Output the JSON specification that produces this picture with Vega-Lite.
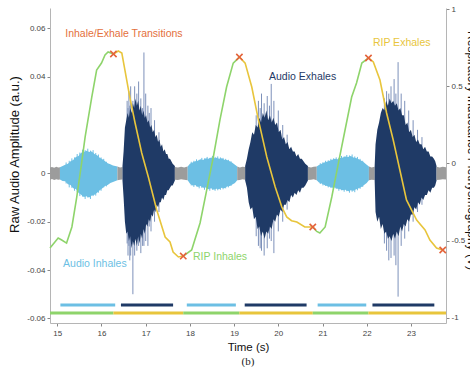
{
  "$schema": "https://vega.github.io/schema/vega-lite/v6.json",
  "width": 396,
  "height": 315,
  "autosize": {"type": "none"},
  "padding": {"left": 50, "top": 8, "right": 24, "bottom": 44},
  "title": {"text": "(b)", "orient": "bottom", "font": "Liberation Serif", "fontSize": 11, "fontWeight": "normal", "color": "#222", "offset": 3},
  "config": {
    "view": {"stroke": null},
    "font": "Liberation Sans",
    "axis": {"domainColor": "#b5b5b5", "tickColor": "#888", "labelColor": "#444", "labelFontSize": 8, "titleColor": "#111", "titleFontWeight": "normal", "grid": false, "tickSize": 3, "labelFont": "Liberation Sans", "titleFont": "Liberation Sans"}
  },
  "datasets": {
    "audio": [
      {"t": 14.835, "hi": 0.0024, "lo": -0.0026, "k": "pause", "s": "p1"},
      {"t": 14.88, "hi": 0.0026, "lo": -0.0023, "k": "pause", "s": "p1"},
      {"t": 14.93, "hi": 0.0023, "lo": -0.0027, "k": "pause", "s": "p1"},
      {"t": 14.98, "hi": 0.0027, "lo": -0.0024, "k": "pause", "s": "p1"},
      {"t": 15.02, "hi": 0.0024, "lo": -0.0026, "k": "pause", "s": "p1"},
      {"t": 15.06, "hi": 0.0025, "lo": -0.0025, "k": "pause", "s": "p1"},
      {"t": 15.06, "hi": 0.0025, "lo": -0.0025, "k": "inhale", "s": "i1"},
      {"t": 15.12, "hi": 0.0030, "lo": -0.0032, "k": "inhale", "s": "i1"},
      {"t": 15.18, "hi": 0.0036, "lo": -0.0033, "k": "inhale", "s": "i1"},
      {"t": 15.24, "hi": 0.0040, "lo": -0.0045, "k": "inhale", "s": "i1"},
      {"t": 15.30, "hi": 0.0050, "lo": -0.0048, "k": "inhale", "s": "i1"},
      {"t": 15.36, "hi": 0.0055, "lo": -0.0062, "k": "inhale", "s": "i1"},
      {"t": 15.42, "hi": 0.0068, "lo": -0.0065, "k": "inhale", "s": "i1"},
      {"t": 15.48, "hi": 0.0072, "lo": -0.0080, "k": "inhale", "s": "i1"},
      {"t": 15.54, "hi": 0.0085, "lo": -0.0088, "k": "inhale", "s": "i1"},
      {"t": 15.60, "hi": 0.0088, "lo": -0.0098, "k": "inhale", "s": "i1"},
      {"t": 15.66, "hi": 0.0093, "lo": -0.0095, "k": "inhale", "s": "i1"},
      {"t": 15.72, "hi": 0.0088, "lo": -0.0100, "k": "inhale", "s": "i1"},
      {"t": 15.78, "hi": 0.0090, "lo": -0.0092, "k": "inhale", "s": "i1"},
      {"t": 15.84, "hi": 0.0080, "lo": -0.0088, "k": "inhale", "s": "i1"},
      {"t": 15.90, "hi": 0.0075, "lo": -0.0080, "k": "inhale", "s": "i1"},
      {"t": 15.96, "hi": 0.0065, "lo": -0.0070, "k": "inhale", "s": "i1"},
      {"t": 16.02, "hi": 0.0058, "lo": -0.0062, "k": "inhale", "s": "i1"},
      {"t": 16.08, "hi": 0.0050, "lo": -0.0052, "k": "inhale", "s": "i1"},
      {"t": 16.14, "hi": 0.0042, "lo": -0.0048, "k": "inhale", "s": "i1"},
      {"t": 16.20, "hi": 0.0038, "lo": -0.0040, "k": "inhale", "s": "i1"},
      {"t": 16.26, "hi": 0.0032, "lo": -0.0036, "k": "inhale", "s": "i1"},
      {"t": 16.36, "hi": 0.0028, "lo": -0.0028, "k": "inhale", "s": "i1"},
      {"t": 16.36, "hi": 0.0028, "lo": -0.0028, "k": "pause", "s": "p2"},
      {"t": 16.42, "hi": 0.0024, "lo": -0.0026, "k": "pause", "s": "p2"},
      {"t": 16.475, "hi": 0.0026, "lo": -0.0025, "k": "pause", "s": "p2"},
      {"t": 16.475, "hi": 0.003, "lo": -0.003, "k": "exhale", "s": "e1"},
      {"t": 16.50, "hi": 0.009, "lo": -0.010, "k": "exhale", "s": "e1"},
      {"t": 16.53, "hi": 0.019, "lo": -0.020, "k": "exhale", "s": "e1"},
      {"t": 16.56, "hi": 0.022, "lo": -0.025, "k": "exhale", "s": "e1"},
      {"t": 16.59, "hi": 0.025, "lo": -0.024, "k": "exhale", "s": "e1"},
      {"t": 16.62, "hi": 0.023, "lo": -0.028, "k": "exhale", "s": "e1"},
      {"t": 16.65, "hi": 0.027, "lo": -0.026, "k": "exhale", "s": "e1"},
      {"t": 16.68, "hi": 0.025, "lo": -0.031, "k": "exhale", "s": "e1"},
      {"t": 16.71, "hi": 0.029, "lo": -0.028, "k": "exhale", "s": "e1"},
      {"t": 16.74, "hi": 0.027, "lo": -0.030, "k": "exhale", "s": "e1"},
      {"t": 16.77, "hi": 0.031, "lo": -0.027, "k": "exhale", "s": "e1"},
      {"t": 16.80, "hi": 0.028, "lo": -0.030, "k": "exhale", "s": "e1"},
      {"t": 16.83, "hi": 0.030, "lo": -0.026, "k": "exhale", "s": "e1"},
      {"t": 16.86, "hi": 0.026, "lo": -0.029, "k": "exhale", "s": "e1"},
      {"t": 16.89, "hi": 0.028, "lo": -0.025, "k": "exhale", "s": "e1"},
      {"t": 16.92, "hi": 0.024, "lo": -0.027, "k": "exhale", "s": "e1"},
      {"t": 16.95, "hi": 0.026, "lo": -0.023, "k": "exhale", "s": "e1"},
      {"t": 16.98, "hi": 0.023, "lo": -0.025, "k": "exhale", "s": "e1"},
      {"t": 17.01, "hi": 0.024, "lo": -0.021, "k": "exhale", "s": "e1"},
      {"t": 17.04, "hi": 0.021, "lo": -0.022, "k": "exhale", "s": "e1"},
      {"t": 17.07, "hi": 0.022, "lo": -0.019, "k": "exhale", "s": "e1"},
      {"t": 17.10, "hi": 0.019, "lo": -0.020, "k": "exhale", "s": "e1"},
      {"t": 17.13, "hi": 0.020, "lo": -0.017, "k": "exhale", "s": "e1"},
      {"t": 17.16, "hi": 0.017, "lo": -0.018, "k": "exhale", "s": "e1"},
      {"t": 17.19, "hi": 0.018, "lo": -0.015, "k": "exhale", "s": "e1"},
      {"t": 17.22, "hi": 0.015, "lo": -0.016, "k": "exhale", "s": "e1"},
      {"t": 17.25, "hi": 0.016, "lo": -0.013, "k": "exhale", "s": "e1"},
      {"t": 17.28, "hi": 0.013, "lo": -0.014, "k": "exhale", "s": "e1"},
      {"t": 17.31, "hi": 0.014, "lo": -0.012, "k": "exhale", "s": "e1"},
      {"t": 17.34, "hi": 0.011, "lo": -0.012, "k": "exhale", "s": "e1"},
      {"t": 17.37, "hi": 0.012, "lo": -0.010, "k": "exhale", "s": "e1"},
      {"t": 17.40, "hi": 0.009, "lo": -0.011, "k": "exhale", "s": "e1"},
      {"t": 17.43, "hi": 0.010, "lo": -0.009, "k": "exhale", "s": "e1"},
      {"t": 17.46, "hi": 0.008, "lo": -0.009, "k": "exhale", "s": "e1"},
      {"t": 17.49, "hi": 0.008, "lo": -0.007, "k": "exhale", "s": "e1"},
      {"t": 17.52, "hi": 0.006, "lo": -0.007, "k": "exhale", "s": "e1"},
      {"t": 17.55, "hi": 0.006, "lo": -0.006, "k": "exhale", "s": "e1"},
      {"t": 17.58, "hi": 0.005, "lo": -0.005, "k": "exhale", "s": "e1"},
      {"t": 17.61, "hi": 0.004, "lo": -0.005, "k": "exhale", "s": "e1"},
      {"t": 17.66, "hi": 0.003, "lo": -0.003, "k": "exhale", "s": "e1"},
      {"t": 17.66, "hi": 0.0026, "lo": -0.0026, "k": "pause", "s": "p3"},
      {"t": 17.73, "hi": 0.0024, "lo": -0.0027, "k": "pause", "s": "p3"},
      {"t": 17.80, "hi": 0.0027, "lo": -0.0024, "k": "pause", "s": "p3"},
      {"t": 17.87, "hi": 0.0024, "lo": -0.0026, "k": "pause", "s": "p3"},
      {"t": 17.95, "hi": 0.0028, "lo": -0.0028, "k": "pause", "s": "p3"},
      {"t": 17.95, "hi": 0.0028, "lo": -0.0028, "k": "inhale", "s": "i2"},
      {"t": 18.00, "hi": 0.0040, "lo": -0.0042, "k": "inhale", "s": "i2"},
      {"t": 18.06, "hi": 0.0045, "lo": -0.0050, "k": "inhale", "s": "i2"},
      {"t": 18.12, "hi": 0.0050, "lo": -0.0048, "k": "inhale", "s": "i2"},
      {"t": 18.18, "hi": 0.0052, "lo": -0.0056, "k": "inhale", "s": "i2"},
      {"t": 18.24, "hi": 0.0058, "lo": -0.0052, "k": "inhale", "s": "i2"},
      {"t": 18.30, "hi": 0.0055, "lo": -0.0060, "k": "inhale", "s": "i2"},
      {"t": 18.36, "hi": 0.0062, "lo": -0.0058, "k": "inhale", "s": "i2"},
      {"t": 18.42, "hi": 0.0060, "lo": -0.0066, "k": "inhale", "s": "i2"},
      {"t": 18.48, "hi": 0.0066, "lo": -0.0062, "k": "inhale", "s": "i2"},
      {"t": 18.54, "hi": 0.0062, "lo": -0.0068, "k": "inhale", "s": "i2"},
      {"t": 18.60, "hi": 0.0065, "lo": -0.0064, "k": "inhale", "s": "i2"},
      {"t": 18.66, "hi": 0.0060, "lo": -0.0066, "k": "inhale", "s": "i2"},
      {"t": 18.72, "hi": 0.0062, "lo": -0.0060, "k": "inhale", "s": "i2"},
      {"t": 18.78, "hi": 0.0056, "lo": -0.0062, "k": "inhale", "s": "i2"},
      {"t": 18.84, "hi": 0.0055, "lo": -0.0054, "k": "inhale", "s": "i2"},
      {"t": 18.90, "hi": 0.0050, "lo": -0.0052, "k": "inhale", "s": "i2"},
      {"t": 18.96, "hi": 0.0044, "lo": -0.0046, "k": "inhale", "s": "i2"},
      {"t": 19.02, "hi": 0.0036, "lo": -0.0040, "k": "inhale", "s": "i2"},
      {"t": 19.07, "hi": 0.0028, "lo": -0.0028, "k": "inhale", "s": "i2"},
      {"t": 19.07, "hi": 0.0028, "lo": -0.0028, "k": "pause", "s": "p4"},
      {"t": 19.13, "hi": 0.0024, "lo": -0.0027, "k": "pause", "s": "p4"},
      {"t": 19.19, "hi": 0.0027, "lo": -0.0024, "k": "pause", "s": "p4"},
      {"t": 19.25, "hi": 0.0026, "lo": -0.0026, "k": "pause", "s": "p4"},
      {"t": 19.25, "hi": 0.003, "lo": -0.003, "k": "exhale", "s": "e2"},
      {"t": 19.29, "hi": 0.006, "lo": -0.006, "k": "exhale", "s": "e2"},
      {"t": 19.33, "hi": 0.010, "lo": -0.012, "k": "exhale", "s": "e2"},
      {"t": 19.37, "hi": 0.013, "lo": -0.015, "k": "exhale", "s": "e2"},
      {"t": 19.41, "hi": 0.017, "lo": -0.014, "k": "exhale", "s": "e2"},
      {"t": 19.45, "hi": 0.016, "lo": -0.019, "k": "exhale", "s": "e2"},
      {"t": 19.49, "hi": 0.020, "lo": -0.018, "k": "exhale", "s": "e2"},
      {"t": 19.53, "hi": 0.019, "lo": -0.023, "k": "exhale", "s": "e2"},
      {"t": 19.57, "hi": 0.023, "lo": -0.022, "k": "exhale", "s": "e2"},
      {"t": 19.61, "hi": 0.021, "lo": -0.026, "k": "exhale", "s": "e2"},
      {"t": 19.65, "hi": 0.025, "lo": -0.024, "k": "exhale", "s": "e2"},
      {"t": 19.69, "hi": 0.023, "lo": -0.027, "k": "exhale", "s": "e2"},
      {"t": 19.73, "hi": 0.026, "lo": -0.024, "k": "exhale", "s": "e2"},
      {"t": 19.77, "hi": 0.022, "lo": -0.025, "k": "exhale", "s": "e2"},
      {"t": 19.81, "hi": 0.024, "lo": -0.022, "k": "exhale", "s": "e2"},
      {"t": 19.85, "hi": 0.021, "lo": -0.023, "k": "exhale", "s": "e2"},
      {"t": 19.89, "hi": 0.023, "lo": -0.019, "k": "exhale", "s": "e2"},
      {"t": 19.93, "hi": 0.020, "lo": -0.020, "k": "exhale", "s": "e2"},
      {"t": 19.97, "hi": 0.021, "lo": -0.017, "k": "exhale", "s": "e2"},
      {"t": 20.01, "hi": 0.017, "lo": -0.018, "k": "exhale", "s": "e2"},
      {"t": 20.05, "hi": 0.018, "lo": -0.015, "k": "exhale", "s": "e2"},
      {"t": 20.09, "hi": 0.014, "lo": -0.016, "k": "exhale", "s": "e2"},
      {"t": 20.13, "hi": 0.015, "lo": -0.013, "k": "exhale", "s": "e2"},
      {"t": 20.17, "hi": 0.012, "lo": -0.013, "k": "exhale", "s": "e2"},
      {"t": 20.21, "hi": 0.013, "lo": -0.011, "k": "exhale", "s": "e2"},
      {"t": 20.25, "hi": 0.010, "lo": -0.012, "k": "exhale", "s": "e2"},
      {"t": 20.29, "hi": 0.011, "lo": -0.009, "k": "exhale", "s": "e2"},
      {"t": 20.33, "hi": 0.009, "lo": -0.010, "k": "exhale", "s": "e2"},
      {"t": 20.37, "hi": 0.009, "lo": -0.008, "k": "exhale", "s": "e2"},
      {"t": 20.41, "hi": 0.007, "lo": -0.009, "k": "exhale", "s": "e2"},
      {"t": 20.45, "hi": 0.008, "lo": -0.007, "k": "exhale", "s": "e2"},
      {"t": 20.49, "hi": 0.006, "lo": -0.008, "k": "exhale", "s": "e2"},
      {"t": 20.53, "hi": 0.006, "lo": -0.006, "k": "exhale", "s": "e2"},
      {"t": 20.57, "hi": 0.005, "lo": -0.006, "k": "exhale", "s": "e2"},
      {"t": 20.61, "hi": 0.004, "lo": -0.005, "k": "exhale", "s": "e2"},
      {"t": 20.67, "hi": 0.003, "lo": -0.003, "k": "exhale", "s": "e2"},
      {"t": 20.67, "hi": 0.0027, "lo": -0.0027, "k": "pause", "s": "p5"},
      {"t": 20.74, "hi": 0.0024, "lo": -0.0026, "k": "pause", "s": "p5"},
      {"t": 20.80, "hi": 0.0027, "lo": -0.0024, "k": "pause", "s": "p5"},
      {"t": 20.87, "hi": 0.0028, "lo": -0.0028, "k": "pause", "s": "p5"},
      {"t": 20.87, "hi": 0.0028, "lo": -0.0028, "k": "inhale", "s": "i3"},
      {"t": 20.92, "hi": 0.0035, "lo": -0.0038, "k": "inhale", "s": "i3"},
      {"t": 20.98, "hi": 0.0040, "lo": -0.0042, "k": "inhale", "s": "i3"},
      {"t": 21.04, "hi": 0.0045, "lo": -0.0048, "k": "inhale", "s": "i3"},
      {"t": 21.10, "hi": 0.0048, "lo": -0.0052, "k": "inhale", "s": "i3"},
      {"t": 21.16, "hi": 0.0052, "lo": -0.0055, "k": "inhale", "s": "i3"},
      {"t": 21.22, "hi": 0.0056, "lo": -0.0060, "k": "inhale", "s": "i3"},
      {"t": 21.28, "hi": 0.0060, "lo": -0.0058, "k": "inhale", "s": "i3"},
      {"t": 21.34, "hi": 0.0058, "lo": -0.0064, "k": "inhale", "s": "i3"},
      {"t": 21.40, "hi": 0.0064, "lo": -0.0066, "k": "inhale", "s": "i3"},
      {"t": 21.46, "hi": 0.0066, "lo": -0.0070, "k": "inhale", "s": "i3"},
      {"t": 21.52, "hi": 0.0070, "lo": -0.0068, "k": "inhale", "s": "i3"},
      {"t": 21.58, "hi": 0.0068, "lo": -0.0074, "k": "inhale", "s": "i3"},
      {"t": 21.64, "hi": 0.0072, "lo": -0.0070, "k": "inhale", "s": "i3"},
      {"t": 21.70, "hi": 0.0066, "lo": -0.0072, "k": "inhale", "s": "i3"},
      {"t": 21.76, "hi": 0.0064, "lo": -0.0066, "k": "inhale", "s": "i3"},
      {"t": 21.82, "hi": 0.0058, "lo": -0.0062, "k": "inhale", "s": "i3"},
      {"t": 21.88, "hi": 0.0052, "lo": -0.0056, "k": "inhale", "s": "i3"},
      {"t": 21.94, "hi": 0.0045, "lo": -0.0048, "k": "inhale", "s": "i3"},
      {"t": 22.00, "hi": 0.0036, "lo": -0.0040, "k": "inhale", "s": "i3"},
      {"t": 22.05, "hi": 0.0028, "lo": -0.0028, "k": "inhale", "s": "i3"},
      {"t": 22.05, "hi": 0.0028, "lo": -0.0028, "k": "pause", "s": "p6"},
      {"t": 22.11, "hi": 0.0024, "lo": -0.0026, "k": "pause", "s": "p6"},
      {"t": 22.18, "hi": 0.0027, "lo": -0.0027, "k": "pause", "s": "p6"},
      {"t": 22.18, "hi": 0.003, "lo": -0.003, "k": "exhale", "s": "e3"},
      {"t": 22.20, "hi": 0.012, "lo": -0.016, "k": "exhale", "s": "e3"},
      {"t": 22.24, "hi": 0.018, "lo": -0.020, "k": "exhale", "s": "e3"},
      {"t": 22.28, "hi": 0.021, "lo": -0.018, "k": "exhale", "s": "e3"},
      {"t": 22.32, "hi": 0.025, "lo": -0.023, "k": "exhale", "s": "e3"},
      {"t": 22.36, "hi": 0.027, "lo": -0.021, "k": "exhale", "s": "e3"},
      {"t": 22.40, "hi": 0.026, "lo": -0.025, "k": "exhale", "s": "e3"},
      {"t": 22.44, "hi": 0.030, "lo": -0.024, "k": "exhale", "s": "e3"},
      {"t": 22.48, "hi": 0.028, "lo": -0.027, "k": "exhale", "s": "e3"},
      {"t": 22.52, "hi": 0.031, "lo": -0.026, "k": "exhale", "s": "e3"},
      {"t": 22.56, "hi": 0.029, "lo": -0.028, "k": "exhale", "s": "e3"},
      {"t": 22.60, "hi": 0.030, "lo": -0.025, "k": "exhale", "s": "e3"},
      {"t": 22.64, "hi": 0.028, "lo": -0.027, "k": "exhale", "s": "e3"},
      {"t": 22.68, "hi": 0.029, "lo": -0.024, "k": "exhale", "s": "e3"},
      {"t": 22.72, "hi": 0.026, "lo": -0.026, "k": "exhale", "s": "e3"},
      {"t": 22.76, "hi": 0.027, "lo": -0.022, "k": "exhale", "s": "e3"},
      {"t": 22.80, "hi": 0.024, "lo": -0.024, "k": "exhale", "s": "e3"},
      {"t": 22.84, "hi": 0.024, "lo": -0.021, "k": "exhale", "s": "e3"},
      {"t": 22.88, "hi": 0.020, "lo": -0.022, "k": "exhale", "s": "e3"},
      {"t": 22.92, "hi": 0.021, "lo": -0.019, "k": "exhale", "s": "e3"},
      {"t": 22.96, "hi": 0.017, "lo": -0.020, "k": "exhale", "s": "e3"},
      {"t": 23.00, "hi": 0.018, "lo": -0.017, "k": "exhale", "s": "e3"},
      {"t": 23.04, "hi": 0.015, "lo": -0.017, "k": "exhale", "s": "e3"},
      {"t": 23.08, "hi": 0.016, "lo": -0.014, "k": "exhale", "s": "e3"},
      {"t": 23.12, "hi": 0.013, "lo": -0.015, "k": "exhale", "s": "e3"},
      {"t": 23.16, "hi": 0.014, "lo": -0.012, "k": "exhale", "s": "e3"},
      {"t": 23.20, "hi": 0.012, "lo": -0.013, "k": "exhale", "s": "e3"},
      {"t": 23.24, "hi": 0.012, "lo": -0.010, "k": "exhale", "s": "e3"},
      {"t": 23.28, "hi": 0.010, "lo": -0.011, "k": "exhale", "s": "e3"},
      {"t": 23.32, "hi": 0.011, "lo": -0.009, "k": "exhale", "s": "e3"},
      {"t": 23.36, "hi": 0.009, "lo": -0.009, "k": "exhale", "s": "e3"},
      {"t": 23.40, "hi": 0.009, "lo": -0.007, "k": "exhale", "s": "e3"},
      {"t": 23.44, "hi": 0.007, "lo": -0.008, "k": "exhale", "s": "e3"},
      {"t": 23.48, "hi": 0.007, "lo": -0.006, "k": "exhale", "s": "e3"},
      {"t": 23.52, "hi": 0.006, "lo": -0.006, "k": "exhale", "s": "e3"},
      {"t": 23.55, "hi": 0.005, "lo": -0.005, "k": "exhale", "s": "e3"},
      {"t": 23.58, "hi": 0.003, "lo": -0.003, "k": "exhale", "s": "e3"},
      {"t": 23.58, "hi": 0.0027, "lo": -0.0027, "k": "pause", "s": "p7"},
      {"t": 23.65, "hi": 0.0024, "lo": -0.0026, "k": "pause", "s": "p7"},
      {"t": 23.72, "hi": 0.0027, "lo": -0.0024, "k": "pause", "s": "p7"},
      {"t": 23.794, "hi": 0.0025, "lo": -0.0025, "k": "pause", "s": "p7"}
    ],
    "spikes": [
      {"t": 15.20, "hi": 0.0045, "lo": -0.0042, "k": "inhale"},
      {"t": 15.27, "hi": 0.0052, "lo": -0.0058, "k": "inhale"},
      {"t": 15.33, "hi": 0.0062, "lo": -0.0060, "k": "inhale"},
      {"t": 15.39, "hi": 0.0066, "lo": -0.0072, "k": "inhale"},
      {"t": 15.45, "hi": 0.0080, "lo": -0.0078, "k": "inhale"},
      {"t": 15.51, "hi": 0.0086, "lo": -0.0094, "k": "inhale"},
      {"t": 15.57, "hi": 0.0098, "lo": -0.0096, "k": "inhale"},
      {"t": 15.63, "hi": 0.0096, "lo": -0.0106, "k": "inhale"},
      {"t": 15.69, "hi": 0.0102, "lo": -0.0100, "k": "inhale"},
      {"t": 15.75, "hi": 0.0094, "lo": -0.0106, "k": "inhale"},
      {"t": 15.81, "hi": 0.0096, "lo": -0.0094, "k": "inhale"},
      {"t": 15.87, "hi": 0.0084, "lo": -0.0092, "k": "inhale"},
      {"t": 15.93, "hi": 0.0078, "lo": -0.0080, "k": "inhale"},
      {"t": 15.99, "hi": 0.0066, "lo": -0.0072, "k": "inhale"},
      {"t": 16.05, "hi": 0.0060, "lo": -0.0058, "k": "inhale"},
      {"t": 16.11, "hi": 0.0048, "lo": -0.0054, "k": "inhale"},
      {"t": 18.03, "hi": 0.0048, "lo": -0.0050, "k": "inhale"},
      {"t": 18.09, "hi": 0.0052, "lo": -0.0056, "k": "inhale"},
      {"t": 18.15, "hi": 0.0058, "lo": -0.0054, "k": "inhale"},
      {"t": 18.21, "hi": 0.0056, "lo": -0.0062, "k": "inhale"},
      {"t": 18.27, "hi": 0.0064, "lo": -0.0060, "k": "inhale"},
      {"t": 18.33, "hi": 0.0062, "lo": -0.0068, "k": "inhale"},
      {"t": 18.39, "hi": 0.0068, "lo": -0.0064, "k": "inhale"},
      {"t": 18.45, "hi": 0.0064, "lo": -0.0072, "k": "inhale"},
      {"t": 18.51, "hi": 0.0072, "lo": -0.0068, "k": "inhale"},
      {"t": 18.57, "hi": 0.0068, "lo": -0.0072, "k": "inhale"},
      {"t": 18.63, "hi": 0.0070, "lo": -0.0070, "k": "inhale"},
      {"t": 18.69, "hi": 0.0066, "lo": -0.0068, "k": "inhale"},
      {"t": 18.75, "hi": 0.0064, "lo": -0.0066, "k": "inhale"},
      {"t": 18.81, "hi": 0.0060, "lo": -0.0062, "k": "inhale"},
      {"t": 18.87, "hi": 0.0056, "lo": -0.0058, "k": "inhale"},
      {"t": 18.93, "hi": 0.0050, "lo": -0.0052, "k": "inhale"},
      {"t": 20.95, "hi": 0.0042, "lo": -0.0044, "k": "inhale"},
      {"t": 21.01, "hi": 0.0046, "lo": -0.0050, "k": "inhale"},
      {"t": 21.07, "hi": 0.0052, "lo": -0.0052, "k": "inhale"},
      {"t": 21.13, "hi": 0.0054, "lo": -0.0058, "k": "inhale"},
      {"t": 21.19, "hi": 0.0060, "lo": -0.0060, "k": "inhale"},
      {"t": 21.25, "hi": 0.0062, "lo": -0.0066, "k": "inhale"},
      {"t": 21.31, "hi": 0.0066, "lo": -0.0064, "k": "inhale"},
      {"t": 21.37, "hi": 0.0064, "lo": -0.0072, "k": "inhale"},
      {"t": 21.43, "hi": 0.0072, "lo": -0.0070, "k": "inhale"},
      {"t": 21.49, "hi": 0.0070, "lo": -0.0076, "k": "inhale"},
      {"t": 21.55, "hi": 0.0076, "lo": -0.0074, "k": "inhale"},
      {"t": 21.61, "hi": 0.0074, "lo": -0.0080, "k": "inhale"},
      {"t": 21.67, "hi": 0.0078, "lo": -0.0076, "k": "inhale"},
      {"t": 21.73, "hi": 0.0070, "lo": -0.0078, "k": "inhale"},
      {"t": 21.79, "hi": 0.0068, "lo": -0.0070, "k": "inhale"},
      {"t": 21.85, "hi": 0.0060, "lo": -0.0064, "k": "inhale"},
      {"t": 21.91, "hi": 0.0052, "lo": -0.0056, "k": "inhale"},
      {"t": 16.58, "hi": 0.030, "lo": -0.029, "k": "spk"},
      {"t": 16.60, "hi": 0.027, "lo": -0.034, "k": "spk"},
      {"t": 16.62, "hi": 0.034, "lo": -0.030, "k": "spk"},
      {"t": 16.64, "hi": 0.028, "lo": -0.036, "k": "spk"},
      {"t": 16.66, "hi": 0.036, "lo": -0.034, "k": "spk"},
      {"t": 16.71, "hi": 0.030, "lo": -0.050, "k": "spk"},
      {"t": 16.75, "hi": 0.036, "lo": -0.034, "k": "spk"},
      {"t": 16.80, "hi": 0.033, "lo": -0.032, "k": "spk"},
      {"t": 16.84, "hi": 0.038, "lo": -0.030, "k": "spk"},
      {"t": 16.89, "hi": 0.031, "lo": -0.033, "k": "spk"},
      {"t": 16.93, "hi": 0.027, "lo": -0.030, "k": "spk"},
      {"t": 16.96, "hi": 0.050, "lo": -0.030, "k": "spk"},
      {"t": 17.00, "hi": 0.033, "lo": -0.028, "k": "spk"},
      {"t": 17.05, "hi": 0.028, "lo": -0.030, "k": "spk"},
      {"t": 17.08, "hi": 0.025, "lo": -0.022, "k": "spk"},
      {"t": 17.12, "hi": 0.027, "lo": -0.024, "k": "spk"},
      {"t": 17.20, "hi": 0.022, "lo": -0.020, "k": "spk"},
      {"t": 17.30, "hi": 0.017, "lo": -0.016, "k": "spk"},
      {"t": 19.50, "hi": 0.024, "lo": -0.026, "k": "spk"},
      {"t": 19.55, "hi": 0.030, "lo": -0.030, "k": "spk"},
      {"t": 19.59, "hi": 0.027, "lo": -0.031, "k": "spk"},
      {"t": 19.62, "hi": 0.033, "lo": -0.032, "k": "spk"},
      {"t": 19.68, "hi": 0.029, "lo": -0.034, "k": "spk"},
      {"t": 19.75, "hi": 0.032, "lo": -0.031, "k": "spk"},
      {"t": 19.80, "hi": 0.028, "lo": -0.027, "k": "spk"},
      {"t": 19.84, "hi": 0.037, "lo": -0.028, "k": "spk"},
      {"t": 19.90, "hi": 0.030, "lo": -0.033, "k": "spk"},
      {"t": 20.00, "hi": 0.026, "lo": -0.024, "k": "spk"},
      {"t": 20.10, "hi": 0.020, "lo": -0.020, "k": "spk"},
      {"t": 20.20, "hi": 0.016, "lo": -0.015, "k": "spk"},
      {"t": 22.40, "hi": 0.031, "lo": -0.029, "k": "spk"},
      {"t": 22.45, "hi": 0.034, "lo": -0.032, "k": "spk"},
      {"t": 22.50, "hi": 0.033, "lo": -0.036, "k": "spk"},
      {"t": 22.55, "hi": 0.036, "lo": -0.035, "k": "spk"},
      {"t": 22.62, "hi": 0.039, "lo": -0.034, "k": "spk"},
      {"t": 22.66, "hi": 0.033, "lo": -0.038, "k": "spk"},
      {"t": 22.71, "hi": 0.046, "lo": -0.051, "k": "spk"},
      {"t": 22.78, "hi": 0.033, "lo": -0.030, "k": "spk"},
      {"t": 22.86, "hi": 0.030, "lo": -0.027, "k": "spk"},
      {"t": 22.95, "hi": 0.026, "lo": -0.024, "k": "spk"},
      {"t": 23.05, "hi": 0.022, "lo": -0.020, "k": "spk"},
      {"t": 23.15, "hi": 0.018, "lo": -0.016, "k": "spk"},
      {"t": 23.25, "hi": 0.015, "lo": -0.013, "k": "spk"}
    ],
    "abars": [
      {"t": 15.07, "t2": 16.31, "k": "inhale"},
      {"t": 16.44, "t2": 17.62, "k": "exhale"},
      {"t": 17.93, "t2": 19.04, "k": "inhale"},
      {"t": 19.24, "t2": 20.64, "k": "exhale"},
      {"t": 20.89, "t2": 21.99, "k": "inhale"},
      {"t": 22.13, "t2": 23.53, "k": "exhale"}
    ],
    "rbars": [
      {"t": 14.835, "t2": 16.27, "k": "ripin"},
      {"t": 16.27, "t2": 17.85, "k": "ripex"},
      {"t": 17.85, "t2": 19.12, "k": "ripin"},
      {"t": 19.12, "t2": 20.78, "k": "ripex"},
      {"t": 20.78, "t2": 22.04, "k": "ripin"},
      {"t": 22.04, "t2": 23.794, "k": "ripex"}
    ],
    "notes": [
      {"t": 15.18, "a": 0.0575, "label": "Inhale/Exhale Transitions", "k": "trans"},
      {"t": 22.14, "a": 0.0538, "label": "RIP Exhales", "k": "ripex"},
      {"t": 19.79, "a": 0.0398, "label": "Audio Exhales", "k": "exhale"},
      {"t": 18.07, "a": -0.0344, "label": "RIP Inhales", "k": "ripin"},
      {"t": 15.13, "a": -0.0373, "label": "Audio Inhales", "k": "inhale"}
    ],
    "rip": [
      {"t": 14.835, "v": -0.547, "k": "ripin", "s": "g1"},
      {"t": 15.02, "v": -0.482, "k": "ripin", "s": "g1"},
      {"t": 15.10, "v": -0.495, "k": "ripin", "s": "g1"},
      {"t": 15.21, "v": -0.515, "k": "ripin", "s": "g1"},
      {"t": 15.33, "v": -0.411, "k": "ripin", "s": "g1"},
      {"t": 15.44, "v": -0.217, "k": "ripin", "s": "g1"},
      {"t": 15.55, "v": 0.003, "k": "ripin", "s": "g1"},
      {"t": 15.63, "v": 0.172, "k": "ripin", "s": "g1"},
      {"t": 15.78, "v": 0.43, "k": "ripin", "s": "g1"},
      {"t": 15.89, "v": 0.605, "k": "ripin", "s": "g1"},
      {"t": 16.00, "v": 0.65, "k": "ripin", "s": "g1"},
      {"t": 16.08, "v": 0.702, "k": "ripin", "s": "g1"},
      {"t": 16.15, "v": 0.722, "k": "ripin", "s": "g1"},
      {"t": 16.27, "v": 0.709, "k": "ripin", "s": "g1"},
      {"t": 16.27, "v": 0.709, "k": "ripex", "s": "y1"},
      {"t": 16.38, "v": 0.728, "k": "ripex", "s": "y1"},
      {"t": 16.46, "v": 0.715, "k": "ripex", "s": "y1"},
      {"t": 16.53, "v": 0.605, "k": "ripex", "s": "y1"},
      {"t": 16.64, "v": 0.43, "k": "ripex", "s": "y1"},
      {"t": 16.76, "v": 0.262, "k": "ripex", "s": "y1"},
      {"t": 16.91, "v": 0.068, "k": "ripex", "s": "y1"},
      {"t": 17.06, "v": -0.087, "k": "ripex", "s": "y1"},
      {"t": 17.25, "v": -0.301, "k": "ripex", "s": "y1"},
      {"t": 17.44, "v": -0.476, "k": "ripex", "s": "y1"},
      {"t": 17.55, "v": -0.508, "k": "ripex", "s": "y1"},
      {"t": 17.62, "v": -0.573, "k": "ripex", "s": "y1"},
      {"t": 17.74, "v": -0.605, "k": "ripex", "s": "y1"},
      {"t": 17.85, "v": -0.599, "k": "ripex", "s": "y1"},
      {"t": 17.85, "v": -0.599, "k": "ripin", "s": "g2"},
      {"t": 18.04, "v": -0.56, "k": "ripin", "s": "g2"},
      {"t": 18.23, "v": -0.385, "k": "ripin", "s": "g2"},
      {"t": 18.38, "v": -0.172, "k": "ripin", "s": "g2"},
      {"t": 18.53, "v": 0.042, "k": "ripin", "s": "g2"},
      {"t": 18.68, "v": 0.282, "k": "ripin", "s": "g2"},
      {"t": 18.83, "v": 0.495, "k": "ripin", "s": "g2"},
      {"t": 18.98, "v": 0.65, "k": "ripin", "s": "g2"},
      {"t": 19.12, "v": 0.689, "k": "ripin", "s": "g2"},
      {"t": 19.12, "v": 0.689, "k": "ripex", "s": "y2"},
      {"t": 19.25, "v": 0.65, "k": "ripex", "s": "y2"},
      {"t": 19.40, "v": 0.495, "k": "ripex", "s": "y2"},
      {"t": 19.55, "v": 0.282, "k": "ripex", "s": "y2"},
      {"t": 19.74, "v": 0.042, "k": "ripex", "s": "y2"},
      {"t": 19.93, "v": -0.152, "k": "ripex", "s": "y2"},
      {"t": 20.08, "v": -0.282, "k": "ripex", "s": "y2"},
      {"t": 20.19, "v": -0.346, "k": "ripex", "s": "y2"},
      {"t": 20.30, "v": -0.37, "k": "ripex", "s": "y2"},
      {"t": 20.42, "v": -0.379, "k": "ripex", "s": "y2"},
      {"t": 20.60, "v": -0.411, "k": "ripex", "s": "y2"},
      {"t": 20.78, "v": -0.411, "k": "ripex", "s": "y2"},
      {"t": 20.78, "v": -0.411, "k": "ripin", "s": "g3"},
      {"t": 20.87, "v": -0.44, "k": "ripin", "s": "g3"},
      {"t": 20.94, "v": -0.45, "k": "ripin", "s": "g3"},
      {"t": 21.06, "v": -0.411, "k": "ripin", "s": "g3"},
      {"t": 21.21, "v": -0.217, "k": "ripin", "s": "g3"},
      {"t": 21.36, "v": 0.003, "k": "ripin", "s": "g3"},
      {"t": 21.51, "v": 0.217, "k": "ripin", "s": "g3"},
      {"t": 21.66, "v": 0.43, "k": "ripin", "s": "g3"},
      {"t": 21.77, "v": 0.521, "k": "ripin", "s": "g3"},
      {"t": 21.89, "v": 0.65, "k": "ripin", "s": "g3"},
      {"t": 22.04, "v": 0.683, "k": "ripin", "s": "g3"},
      {"t": 22.04, "v": 0.683, "k": "ripex", "s": "y3"},
      {"t": 22.15, "v": 0.657, "k": "ripex", "s": "y3"},
      {"t": 22.30, "v": 0.54, "k": "ripex", "s": "y3"},
      {"t": 22.45, "v": 0.327, "k": "ripex", "s": "y3"},
      {"t": 22.60, "v": 0.152, "k": "ripex", "s": "y3"},
      {"t": 22.75, "v": -0.042, "k": "ripex", "s": "y3"},
      {"t": 22.90, "v": -0.236, "k": "ripex", "s": "y3"},
      {"t": 23.13, "v": -0.366, "k": "ripex", "s": "y3"},
      {"t": 23.32, "v": -0.43, "k": "ripex", "s": "y3"},
      {"t": 23.43, "v": -0.495, "k": "ripex", "s": "y3"},
      {"t": 23.58, "v": -0.547, "k": "ripex", "s": "y3"},
      {"t": 23.72, "v": -0.56, "k": "ripex", "s": "y3"}
    ],
    "trans": [
      {"t": 16.27, "v": 0.709},
      {"t": 17.85, "v": -0.599},
      {"t": 19.12, "v": 0.689},
      {"t": 20.78, "v": -0.411},
      {"t": 22.04, "v": 0.683},
      {"t": 23.72, "v": -0.56}
    ]
  },
  "encoding": {
    "x": {"field": "t", "type": "quantitative", "scale": {"domain": [14.835, 23.794], "nice": false, "zero": false},
      "axis": {"values": [15, 16, 17, 18, 19, 20, 21, 22, 23], "title": "Time (s)", "titleFontSize": 11.5, "labelPadding": 3, "titlePadding": 4}}
  },
  "layer": [
    {
      "layer": [
        {
          "data": {"name": "spikes"},
          "mark": {"type": "rule", "strokeWidth": 1},
          "encoding": {
            "y": {"field": "hi", "type": "quantitative", "scale": {"domain": [-0.0619, 0.0684], "nice": false, "zero": false},
              "axis": {"values": [-0.06, -0.04, -0.02, 0, 0.04, 0.06], "labelExpr": "datum.value == 0 ? '0' : (datum.value < 0 ? '-' : '') + format(abs(datum.value), '.2f')", "title": "Raw Audio Amplitude (a.u.)", "titleFontSize": 13, "titleY": 146, "labelPadding": 2, "titlePadding": 5}},
            "y2": {"field": "lo"},
            "color": {"field": "k", "type": "nominal", "legend": null,
              "scale": {"domain": ["pause", "inhale", "exhale", "ripin", "ripex", "trans", "spk"], "range": ["#9c9c9c", "#6cbfe4", "#1f3a66", "#8ed46b", "#e8c53c", "#e4703c", "#7d91ba"]}}
          }
        },
        {
          "data": {"name": "audio"},
          "mark": {"type": "area", "interpolate": "linear"},
          "encoding": {
            "y": {"field": "hi", "type": "quantitative", "scale": {"domain": [-0.0619, 0.0684], "nice": false, "zero": false},
              "axis": {"values": [-0.06, -0.04, -0.02, 0, 0.04, 0.06], "labelExpr": "datum.value == 0 ? '0' : (datum.value < 0 ? '-' : '') + format(abs(datum.value), '.2f')", "title": "Raw Audio Amplitude (a.u.)", "titleFontSize": 13, "titleY": 146, "labelPadding": 2, "titlePadding": 5}},
            "y2": {"field": "lo"},
            "detail": {"field": "s"},
            "color": {"field": "k", "type": "nominal", "legend": null}
          }
        },
        {
          "data": {"name": "abars"},
          "mark": {"type": "rule", "strokeWidth": 3},
          "encoding": {
            "x2": {"field": "t2"},
            "y": {"datum": -0.0545, "type": "quantitative",
              "axis": {"values": [-0.06, -0.04, -0.02, 0, 0.04, 0.06], "labelExpr": "datum.value == 0 ? '0' : (datum.value < 0 ? '-' : '') + format(abs(datum.value), '.2f')", "title": "Raw Audio Amplitude (a.u.)", "titleFontSize": 13, "titleY": 146, "labelPadding": 2, "titlePadding": 5}},
            "color": {"field": "k", "type": "nominal", "legend": null}
          }
        },
        {
          "data": {"name": "rbars"},
          "mark": {"type": "rule", "strokeWidth": 3},
          "encoding": {
            "x2": {"field": "t2"},
            "y": {"datum": -0.0578, "type": "quantitative",
              "axis": {"values": [-0.06, -0.04, -0.02, 0, 0.04, 0.06], "labelExpr": "datum.value == 0 ? '0' : (datum.value < 0 ? '-' : '') + format(abs(datum.value), '.2f')", "title": "Raw Audio Amplitude (a.u.)", "titleFontSize": 13, "titleY": 146, "labelPadding": 2, "titlePadding": 5}},
            "color": {"field": "k", "type": "nominal", "legend": null}
          }
        },
        {
          "data": {"name": "notes"},
          "mark": {"type": "text", "align": "left", "baseline": "middle", "fontSize": 10.5, "font": "Liberation Sans"},
          "encoding": {
            "y": {"field": "a", "type": "quantitative",
              "axis": {"values": [-0.06, -0.04, -0.02, 0, 0.04, 0.06], "labelExpr": "datum.value == 0 ? '0' : (datum.value < 0 ? '-' : '') + format(abs(datum.value), '.2f')", "title": "Raw Audio Amplitude (a.u.)", "titleFontSize": 13, "titleY": 146, "labelPadding": 2, "titlePadding": 5}},
            "text": {"field": "label"},
            "color": {"field": "k", "type": "nominal", "legend": null}
          }
        }
      ]
    },
    {
      "layer": [
        {
          "data": {"name": "rip"},
          "mark": {"type": "line", "strokeWidth": 1.6},
          "encoding": {
            "y": {"field": "v", "type": "quantitative", "scale": {"domain": [-1.0324, 1.0065], "nice": false, "zero": false},
              "axis": {"orient": "right", "values": [-1, -0.5, 0, 0.5, 1], "labelExpr": "(datum.value < 0 ? '-' : '') + format(abs(datum.value), '~g')", "title": "Respiratory Inductance Plethysmography (V)", "titleFontSize": 12, "titleY": 142, "labelPadding": 2, "titlePadding": 0}},
            "detail": {"field": "s"},
            "color": {"field": "k", "type": "nominal", "legend": null}
          }
        },
        {
          "data": {"name": "trans"},
          "mark": {"type": "point", "shape": "M-1,-1L1,1M-1,1L1,-1", "filled": false, "color": "#e4633a", "strokeWidth": 1.6, "size": 40, "opacity": 1},
          "encoding": {
            "y": {"field": "v", "type": "quantitative",
              "axis": {"orient": "right", "values": [-1, -0.5, 0, 0.5, 1], "labelExpr": "(datum.value < 0 ? '-' : '') + format(abs(datum.value), '~g')", "title": "Respiratory Inductance Plethysmography (V)", "titleFontSize": 12, "titleY": 142, "labelPadding": 2, "titlePadding": 0}}
          }
        }
      ]
    }
  ],
  "resolve": {"scale": {"y": "independent", "color": "shared"}}
}
